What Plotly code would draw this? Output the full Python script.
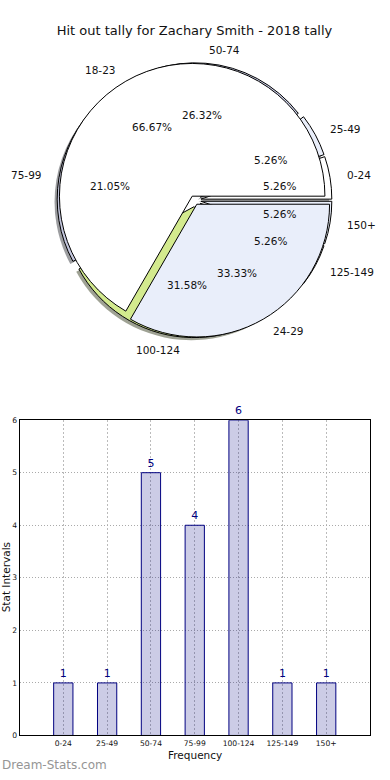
import math
import plotly.graph_objects as go

# ---------------- data ----------------
chart_title = "Hit out tally for Zachary Smith - 2018 tally"
stat_labels = ["0-24", "25-49", "50-74", "75-99", "100-124", "125-149", "150+"]
stat_counts = [1, 1, 5, 4, 6, 1, 1]
age_labels = ["18-23", "24-29"]
age_counts = [2, 1]
x_title = "Frequency"
y_title = "Stat Intervals"
watermark = "Dream-Stats.com"

# ---------------- style ----------------
W, H = 390, 780
FONT = "DejaVu Sans"
cycle = ["#ffffff", "#e9eefa", "#cdd1ea", "#c3c6dd", "#d3ea8e"]
PULL1, PULL2 = 0.05, 0.035
CX, CY, R = 194.5, 198.5, 139.0  # pie centre / outer extent (px)


def shade(hexcol):
    r, g, b = (int(hexcol[i:i + 2], 16) for i in (1, 3, 5))
    return "rgba(%d,%d,%d,0.5)" % (r * 0.3, g * 0.3, b * 0.3)


def colors_for(n):
    return [cycle[i % len(cycle)] for i in range(n)]


def start_rotation(values):
    # first wedge starts at 3 o'clock and the wedges run counter-clockwise
    return 90 - 360.0 * values[0] / sum(values)


pie_dx = [(CX - R) / W, (CX + R) / W]
pie_dy = [1 - (CY + R) / H, 1 - (CY - R) / H]
r1 = R / (1 + PULL1)
sh = 0.02 * r1
shadow_dx = [pie_dx[0] - sh / W, pie_dx[1] - sh / W]
shadow_dy = [pie_dy[0] - sh / H, pie_dy[1] - sh / H]

fig = go.Figure()

# shadow of first pie
fig.add_trace(go.Pie(
    labels=stat_labels, values=stat_counts, sort=False, direction="counterclockwise",
    rotation=start_rotation(stat_counts), pull=[PULL1] * len(stat_counts),
    domain=dict(x=shadow_dx, y=shadow_dy),
    marker=dict(colors=[shade(c) for c in colors_for(len(stat_counts))], line=dict(width=0)),
    textinfo="none", hoverinfo="skip", showlegend=False,
))
# first pie
fig.add_trace(go.Pie(
    labels=stat_labels, values=stat_counts, sort=False, direction="counterclockwise",
    rotation=start_rotation(stat_counts), pull=[PULL1] * len(stat_counts),
    domain=dict(x=pie_dx, y=pie_dy),
    marker=dict(colors=colors_for(len(stat_counts)), line=dict(color="black", width=1)),
    textinfo="none", hoverinfo="skip", showlegend=False,
))
# second pie
fig.add_trace(go.Pie(
    labels=age_labels, values=age_counts, sort=False, direction="counterclockwise",
    rotation=start_rotation(age_counts), pull=[PULL2] * len(age_counts),
    domain=dict(x=pie_dx, y=pie_dy),
    marker=dict(colors=colors_for(len(age_counts)), line=dict(color="black", width=1)),
    textinfo="none", hoverinfo="skip", showlegend=False,
))

# invisible helper axes centred on the pie (unit = radius of first pie)
LIM = 1.4
half = LIM * r1
text_dx = [(CX - half) / W, (CX + half) / W]
text_dy = [1 - (CY + half) / H, 1 - (CY - half) / H]
fig.add_trace(go.Scatter(x=[], y=[], xaxis="x2", yaxis="y2", showlegend=False, hoverinfo="skip"))

annotations = []


def pie_text(labels, values, pull, scale):
    total = float(sum(values))
    cum = 0.0
    for lab, v in zip(labels, values):
        mid = 2 * math.pi * (cum + v / 2.0) / total
        cum += v
        c, s = math.cos(mid), math.sin(mid)
        dl = scale * (1.1 + pull)
        dp = scale * (0.6 + pull)
        annotations.append(dict(
            x=dl * c, y=dl * s, xref="x2", yref="y2", text=lab, showarrow=False,
            xanchor="left" if c > 0 else "right", yanchor="middle",
            font=dict(family=FONT, size=10.5, color="#111111")))
        annotations.append(dict(
            x=dp * c, y=dp * s, xref="x2", yref="y2", text="%.2f%%" % (100 * v / total),
            showarrow=False, xanchor="center", yanchor="middle",
            font=dict(family=FONT, size=10.5, color="#111111")))


pie_text(stat_labels, stat_counts, PULL1, 1.0)
pie_text(age_labels, age_counts, PULL2, (1 + PULL1) / (1 + PULL2))

# ---------------- bar chart ----------------
fig.add_trace(go.Bar(
    x=stat_labels, y=stat_counts, width=0.44,
    marker=dict(color="rgba(0,0,128,0.2)", line=dict(color="#000080", width=1)),
    text=[str(v) for v in stat_counts], textposition="outside", cliponaxis=False,
    textfont=dict(family=FONT, size=11, color="#000080"),
    hoverinfo="skip", showlegend=False,
))

bx = [19.5 / W, 370.0 / W]
by = [1 - 740.0 / H, 1 - 421.0 / H]

annotations.append(dict(
    x=(bx[0] + bx[1]) / 2, y=1 - 760.0 / H, xref="paper", yref="paper", text=x_title,
    showarrow=False, xanchor="center", yanchor="middle",
    font=dict(family=FONT, size=10.5, color="#111111")))
annotations.append(dict(
    x=5.5 / W, y=(by[0] + by[1]) / 2, xref="paper", yref="paper", text=y_title,
    showarrow=False, xanchor="center", yanchor="middle", textangle=-90,
    font=dict(family=FONT, size=10.5, color="#111111")))
annotations.append(dict(
    x=0.0, y=1 - 770.0 / H, xref="paper", yref="paper", text=watermark,
    showarrow=False, xanchor="left", yanchor="middle",
    font=dict(family=FONT, size=12, color="#959595")))

axis_common = dict(
    showline=True, linecolor="black", linewidth=1, mirror=True,
    showgrid=True, gridwidth=1, ticks="", zeroline=False,
    tickfont=dict(family=FONT, size=7.6, color="#111111"),
)

fig.update_layout(
    width=W, height=H, margin=dict(l=0, r=0, t=0, b=0),
    paper_bgcolor="white", plot_bgcolor="white",
    title=dict(text=chart_title, x=CX / W, xanchor="center", y=1 - 30.0 / H, yanchor="middle",
               font=dict(family=FONT, size=13, color="#111111")),
    xaxis=dict(domain=bx, type="category", categoryorder="array", categoryarray=stat_labels,
               range=[-1, 7], fixedrange=True, gridcolor="#bbbbbb", griddash="2px,2px",
               **axis_common),
    yaxis=dict(domain=by, range=[0, 6], dtick=1, fixedrange=True, gridcolor="#aaaaaa",
               griddash="1px,2px", **axis_common),
    xaxis2=dict(domain=text_dx, range=[-LIM, LIM], visible=False, anchor="y2", fixedrange=True),
    yaxis2=dict(domain=text_dy, range=[-LIM, LIM], visible=False, anchor="x2", fixedrange=True),
    annotations=annotations,
    font=dict(family=FONT),
)

fig.write_html("out.html", config={"displayModeBar": False},
               post_script="document.body.style.margin='0px';")
